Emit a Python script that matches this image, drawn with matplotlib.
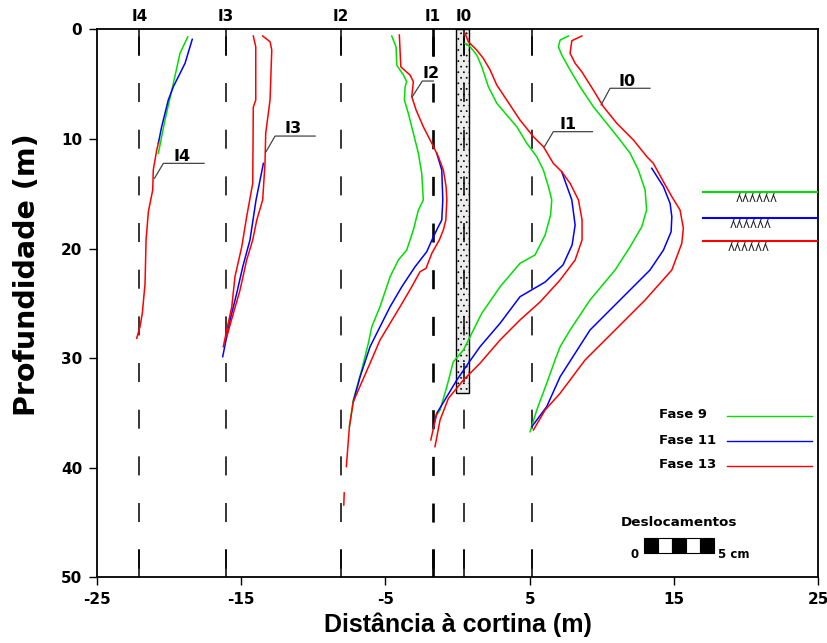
import numpy as np
import matplotlib.pyplot as plt
from matplotlib.patches import Rectangle

plt.rcParams['font.family'] = ['DejaVu Sans']
plt.rcParams['font.weight'] = 'bold'
plt.rcParams['lines.scale_dashes'] = False
plt.rcParams['axes.unicode_minus'] = False
plt.rcParams['hatch.linewidth'] = 0.5

GREEN, BLUE, RED = '#00e000', '#0000ff', '#ff0000'

# inclinometer verticals (distance to the wall, m)
incl_names = ['I4', 'I3', 'I2', 'I1', 'I0']
incl_x = [-22.05, -16.06, -8.07, -1.71, 0.45]
extra_x = 5.15

# wall (cortina)
wall_x0, wall_x1, wall_depth = -0.12, 0.82, 33.2

# displacement profiles: distance (m) vs depth (m)
i4_f9_x = [-18.69, -19.23, -19.69, -20.27, -20.73]
i4_f9_z = [0.68, 2.19, 4.93, 8.28, 11.31]
i4_f11_x = [-18.38, -18.88, -19.69, -20.04, -20.50, -20.73]
i4_f11_z = [0.91, 3.10, 5.24, 6.45, 8.89, 10.40]
i4_f13_x = [-20.73, -20.84, -21.08, -21.12, -21.42, -21.58, -21.65, -21.84, -22.00, -22.23]
i4_f13_z = [10.40, 11.01, 12.84, 14.66, 16.64, 19.22, 23.18, 25.91, 27.14, 28.19]

i3_f11_x = [-13.45, -13.96, -14.38, -14.88, -15.30, -15.76, -16.27]
i3_f11_z = [12.23, 15.57, 19.22, 21.66, 24.09, 26.52, 29.87]
i3_f13a_x = [-14.15, -13.98, -13.98, -14.15, -14.19, -14.61, -14.95, -15.42, -15.64, -15.99, -16.23]
i3_f13a_z = [0.61, 1.59, 6.45, 7.09, 14.05, 17.10, 19.84, 22.57, 25.31, 27.44, 28.96]
i3_f13b_x = [-13.50, -12.99, -12.87, -12.99, -13.29, -13.34, -13.50, -13.91, -14.19, -14.61, -15.07, -15.53, -15.99]
i3_f13b_z = [0.61, 1.13, 1.89, 6.45, 9.49, 12.23, 15.57, 17.40, 19.22, 21.05, 23.79, 25.91, 28.05]

i2_f9_x = [-4.56, -4.26, -4.21, -3.75, -3.52, -3.63, -3.68, -3.41, -3.06, -2.71, -2.48, -2.37,
           -2.71, -3.06, -3.52, -4.10, -4.67, -5.37, -5.94, -6.18, -6.64, -7.22, -7.49]
i2_f9_z = [0.61, 1.59, 3.26, 4.17, 4.78, 5.24, 6.45, 7.66, 9.49, 11.31, 13.14, 15.57,
           16.49, 18.31, 20.14, 21.05, 22.57, 25.31, 27.14, 28.65, 31.09, 33.82, 36.26]
i2_f11_x = [-1.44, -1.09, -1.02, -1.09, -1.33, -1.67, -2.13, -2.94, -3.86, -4.67, -5.37, -6.06, -6.75, -7.22]
i2_f11_z = [11.31, 12.84, 15.57, 17.40, 18.01, 18.92, 20.29, 21.66, 23.49, 25.31, 27.14, 28.96, 31.70, 33.98]
i2_f13_x = [-4.03, -3.93, -3.63, -3.29, -3.06, -3.17, -2.87, -2.37, -1.78, -1.33, -0.98, -0.79, -0.74,
            -0.81, -0.98, -1.26, -1.78, -2.18, -2.60, -3.17, -3.98, -4.67, -5.37, -6.06, -6.87, -7.22,
            -7.49, -7.67, -7.70]
i2_f13_z = [0.52, 3.41, 3.78, 4.17, 4.78, 6.15, 7.36, 8.89, 10.40, 11.62, 12.84, 14.36, 15.57,
            17.40, 18.31, 19.22, 20.44, 21.81, 22.12, 23.49, 25.31, 26.82, 28.35, 30.47, 32.91, 33.98,
            36.26, 39.30, 39.90]
i2_f13b_x = [-7.85, -7.88]
i2_f13b_z = [42.3, 43.4]

i1_f9_x = [0.52, 0.87, 1.33, 1.68, 2.14, 2.72, 3.41, 4.11, 4.80, 5.49, 5.95, 6.30, 6.53, 6.45,
           6.07, 5.37, 4.33, 2.95, 1.68, 0.87, 0.41, -0.29, -0.74, -1.21, -1.44]
i1_f9_z = [1.28, 1.59, 2.34, 3.41, 5.24, 6.75, 7.82, 8.89, 10.40, 11.62, 12.84, 14.36, 15.57, 16.94,
           18.77, 20.59, 21.35, 23.49, 25.91, 28.05, 29.26, 30.33, 32.61, 34.74, 35.19]
i1_f11_x = [7.22, 7.92, 8.15, 7.94, 7.31, 6.07, 4.33, 2.95, 1.56, 0.75, -0.05, -0.74, -1.44, -1.67]
i1_f11_z = [12.99, 15.57, 17.86, 19.68, 21.50, 23.06, 24.40, 26.82, 28.96, 30.47, 32.00, 33.52, 35.04, 36.26]
i1_f13_x = [0.52, 0.75, 1.33, 1.79, 2.26, 2.72, 3.41, 4.33, 5.26, 5.95, 6.64, 7.22, 7.80, 8.38,
            8.63, 8.63, 8.15, 7.11, 5.72, 4.33, 2.95, 1.56, 0.41, -0.63, -1.21, -1.56]
i1_f13_z = [0.36, 1.13, 1.89, 2.65, 3.71, 5.08, 6.45, 8.28, 9.80, 10.71, 12.23, 12.99, 14.05, 15.57,
            17.40, 19.22, 21.05, 22.87, 24.88, 26.52, 28.35, 30.47, 32.00, 33.67, 35.65, 38.08]
i1_f13b_x = [-1.44, -1.85]
i1_f13b_z = [35.04, 37.47]

i0_f9_x = [7.68, 7.11, 6.99, 7.22, 7.80, 8.49, 9.41, 10.34, 11.26, 11.96, 12.53, 13.00, 13.10,
           12.77, 11.96, 10.92, 9.18, 7.80, 7.11, 6.76, 6.18, 5.49, 5.03]
i0_f9_z = [0.61, 0.98, 1.59, 2.34, 3.71, 5.24, 7.06, 8.58, 10.10, 11.31, 12.84, 14.66, 16.49,
           18.01, 19.84, 21.96, 24.70, 27.44, 28.96, 30.17, 32.30, 34.74, 36.72]
i0_f11_x = [13.46, 14.27, 14.73, 14.85, 14.80, 14.27, 13.34, 11.26, 9.18, 7.11, 6.18, 5.15]
i0_f11_z = [12.68, 14.36, 15.88, 17.10, 18.47, 20.14, 21.96, 24.70, 27.44, 31.70, 34.43, 36.26]
i0_f13_x = [8.61, 7.92, 7.80, 8.15, 8.61, 9.41, 10.11, 11.04, 12.19, 13.12, 13.57, 14.27, 14.85,
            15.42, 15.65, 15.54, 14.85, 13.00, 10.92, 8.84, 7.11, 6.07, 5.26]
i0_f13_z = [0.61, 1.04, 2.19, 3.10, 3.87, 5.54, 7.06, 8.58, 10.10, 11.62, 12.23, 13.91, 15.27,
            16.49, 18.16, 19.53, 21.96, 24.70, 27.44, 30.17, 33.21, 34.74, 36.56]

# callout labels on the curves
call_names = ['I4', 'I3', 'I2', 'I1', 'I0']
call_text_x = [-19.12, -11.38, -1.85, 7.68, 11.78]
call_shelf_x0 = [-20.38, -12.64, -2.44, 6.64, 10.57]
call_shelf_x1 = [-17.56, -9.87, -1.67, 9.35, 13.34]
call_shelf_y = [12.23, 9.74, 4.72, 9.34, 5.38]
call_tip_x = [-21.0, -13.27, -3.13, 6.02, 9.95]
call_tip_y = [13.6, 11.17, 6.15, 10.71, 6.9]

# excavation levels per phase
exc_depth = [14.8, 17.2, 19.3]
exc_colors = [GREEN, BLUE, RED]
exc_x0 = 17.04
exc_mark_x = [20.72, 20.31, 20.17]

# legend entries
leg_labels = ['Fase 9', 'Fase 11', 'Fase 13']
leg_colors = [GREEN, BLUE, RED]
leg_depth = [35.25, 37.58, 39.8]
leg_text_x = 13.97
leg_line_x = [18.66, 24.55]

# displacement scale bar (1 cm per segment)
bar_x0, bar_seg, bar_n = 12.9, 0.97, 5
bar_z0, bar_z1 = 46.4, 47.8

fig = plt.figure(figsize=(8.28, 6.43), dpi=100)
ax = fig.add_axes([0.1168, 0.1022, 0.8715, 0.8522])

ax.set_xlim(-25, 25)
ax.set_ylim(50, 0)

# wall
ax.add_patch(Rectangle((wall_x0, 0), wall_x1 - wall_x0, wall_depth, facecolor='#ececec',
                       edgecolor='black', hatch='...', linewidth=1.0, zorder=2))

# inclinometer verticals
dash = (28.3, (13.7, 19.9))
for i, x in enumerate(incl_x + [extra_x]):
    lw = 1.9 if i == 3 else 1.1
    ax.plot([x, x], [0, 50], color='black', lw=lw, linestyle=dash, zorder=3)
    ax.plot([x, x], [0, 2.3], color='black', lw=lw, zorder=3)
    ax.plot([x, x], [47.5, 50], color='black', lw=lw, zorder=3)

for name, x in zip(incl_names, incl_x):
    ax.text(x, -1.15, name, ha='center', va='center', fontsize=11, fontweight='bold')

lw = 1.1
ax.plot(i4_f9_x, i4_f9_z, color=GREEN, lw=lw, zorder=4)
ax.plot(i2_f9_x, i2_f9_z, color=GREEN, lw=lw, zorder=4)
ax.plot(i1_f9_x, i1_f9_z, color=GREEN, lw=lw, zorder=4)
ax.plot(i0_f9_x, i0_f9_z, color=GREEN, lw=lw, zorder=4)

ax.plot(i4_f11_x, i4_f11_z, color=BLUE, lw=lw, zorder=5)
ax.plot(i3_f11_x, i3_f11_z, color=BLUE, lw=lw, zorder=5)
ax.plot(i2_f11_x, i2_f11_z, color=BLUE, lw=lw, zorder=5)
ax.plot(i1_f11_x, i1_f11_z, color=BLUE, lw=lw, zorder=5)
ax.plot(i0_f11_x, i0_f11_z, color=BLUE, lw=lw, zorder=5)

ax.plot(i4_f13_x, i4_f13_z, color=RED, lw=lw, zorder=6)
ax.plot(i3_f13a_x, i3_f13a_z, color=RED, lw=lw, zorder=6)
ax.plot(i3_f13b_x, i3_f13b_z, color=RED, lw=lw, zorder=6)
ax.plot(i2_f13_x, i2_f13_z, color=RED, lw=lw, zorder=6)
ax.plot(i2_f13b_x, i2_f13b_z, color=RED, lw=lw, zorder=6)
ax.plot(i1_f13_x, i1_f13_z, color=RED, lw=lw, zorder=6)
ax.plot(i1_f13b_x, i1_f13b_z, color=RED, lw=lw, zorder=6)
ax.plot(i0_f13_x, i0_f13_z, color=RED, lw=lw, zorder=6)

# callouts
for k in range(len(call_names)):
    ax.plot([call_tip_x[k], call_shelf_x0[k], call_shelf_x1[k]],
            [call_tip_y[k], call_shelf_y[k], call_shelf_y[k]], color='#444444', lw=0.9, zorder=7)
    ax.text(call_text_x[k], call_shelf_y[k] - 0.25, call_names[k], ha='center', va='baseline',
            fontsize=11.5, fontweight='bold', zorder=7)

# excavation levels
for z, c, mx in zip(exc_depth, exc_colors, exc_mark_x):
    ax.plot([exc_x0, 25], [z, z], color=c, lw=1.5, zorder=4)
    ax.text(mx, z + 0.05, '\u028e\u028e\u028e\u028e\u028e\u028e', ha='center', va='top', fontsize=8.5,
            fontweight='normal', color='#222222')

# legend: labels left, line samples right
for lab, c, z in zip(leg_labels, leg_colors, leg_depth):
    ax.text(leg_text_x, z - 0.1, lab, ha='left', va='center', fontsize=9.5, fontweight='bold')
    ax.plot(leg_line_x, [z, z], color=c, lw=1.0)

# scale bar
ax.text(bar_x0 + bar_n * bar_seg / 2, 45.0, 'Deslocamentos', ha='center', va='center',
        fontsize=9.7, fontweight='bold')
for s in range(bar_n):
    ax.add_patch(Rectangle((bar_x0 + s * bar_seg, bar_z0), bar_seg, bar_z1 - bar_z0,
                           facecolor='black' if s % 2 == 0 else 'white', edgecolor='black', lw=0.8))
ax.text(bar_x0 - 0.35, 47.95, '0', ha='right', va='center', fontsize=8.5, fontweight='bold')
ax.text(bar_x0 + bar_n * bar_seg + 0.3, 47.95, '5 cm', ha='left', va='center', fontsize=8.5,
        fontweight='bold')

ax.set_xticks([-25, -15, -5, 5, 15, 25])
ax.set_yticks([0, 10, 20, 30, 40, 50])
ax.tick_params(direction='out', length=6, width=1, labelsize=11, pad=4.5)
for lab in ax.get_xticklabels() + ax.get_yticklabels():
    lab.set_fontweight('bold')
for sp in ax.spines.values():
    sp.set_linewidth(1.3)

ax.set_xlabel('Distância à cortina (m)', fontsize=18, fontweight='bold', labelpad=4,
              family=['Liberation Sans', 'DejaVu Sans'])
ax.set_ylabel('Profundidade (m)', fontsize=20.5, fontweight='bold')
ax.yaxis.set_label_coords(-0.077, 0.553)

fig.savefig('out.png', dpi=100)
